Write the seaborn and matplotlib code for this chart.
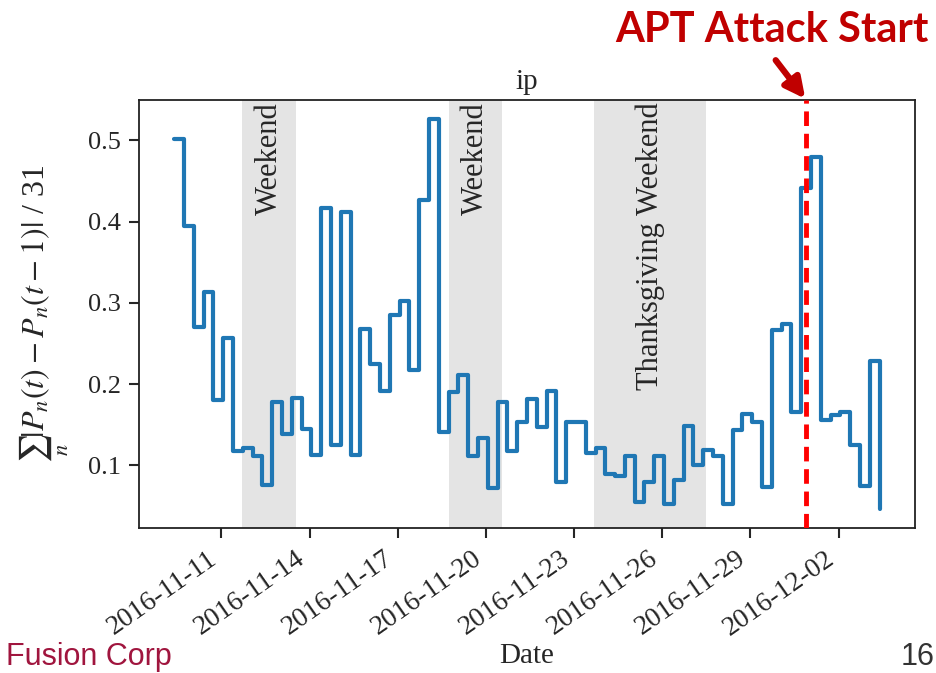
import pandas as pd
import numpy as np
import matplotlib
matplotlib.use('Agg')
import matplotlib.pyplot as plt
import matplotlib.dates as mdates
import seaborn as sns

# values of the ip series, one every 8 hours
start_time = '2016-11-09 09:30'
step = '8h'
values = [0.501, 0.395, 0.270, 0.313, 0.180, 0.257, 0.118, 0.122, 0.111, 0.076,
          0.178, 0.139, 0.183, 0.145, 0.113, 0.417, 0.125, 0.412, 0.113, 0.268,
          0.225, 0.192, 0.285, 0.302, 0.218, 0.426, 0.526, 0.141, 0.190, 0.211,
          0.112, 0.134, 0.072, 0.178, 0.118, 0.153, 0.182, 0.147, 0.192, 0.080,
          0.154, 0.154, 0.115, 0.122, 0.089, 0.087, 0.112, 0.055, 0.080, 0.111,
          0.053, 0.082, 0.149, 0.100, 0.119, 0.111, 0.052, 0.143, 0.163, 0.153,
          0.074, 0.266, 0.274, 0.166, 0.441, 0.479, 0.156, 0.162, 0.166, 0.125,
          0.075, 0.228, 0.047]

span_labels = ['Weekend', 'Weekend', 'Thanksgiving Weekend']
span_starts = ['2016-11-11 17:00', '2016-11-18 17:30', '2016-11-23 16:30']
span_ends = ['2016-11-13 12:45', '2016-11-20 12:45', '2016-11-27 11:45']
attack_time = '2016-11-30 21:00'
tick_dates = pd.date_range('2016-11-11', '2016-12-02', freq='3D')

df = pd.DataFrame({'Date': pd.date_range(start_time, periods=len(values), freq=step),
                   'value': values})

sns.set_style('ticks')
plt.rcParams['font.family'] = ['Liberation Serif', 'DejaVu Serif']
plt.rcParams['mathtext.fontset'] = 'stix'

fig = plt.figure(figsize=(9.37, 6.73), dpi=100)
ax = fig.add_axes([0.1483, 0.2155, 0.8281, 0.6364])

# shaded weekends
for lab, s, e in zip(span_labels, span_starts, span_ends):
    s, e = pd.Timestamp(s), pd.Timestamp(e)
    ax.axvspan(s, e, color='#e4e4e4', lw=0, zorder=0)
    ax.text(s + (e - s) / 2, 0.995, lab, transform=ax.get_xaxis_transform(),
            rotation=90, ha='center', va='top', fontsize=22)

sns.lineplot(data=df, x='Date', y='value', drawstyle='steps-post',
             color='#1f77b4', lw=3, ax=ax, zorder=3)

ax.axvline(pd.Timestamp(attack_time), color='red', ls='--', lw=3.5,
           dashes=(3, 1.6), zorder=4)

ax.set_xticks(tick_dates)
ax.xaxis.set_major_formatter(mdates.DateFormatter('%Y-%m-%d'))
plt.setp(ax.get_xticklabels(), rotation=35, ha='right')
ax.tick_params(labelsize=20, length=7, width=1.5, pad=6)
ax.tick_params(axis='y', labelsize=19)
for sp in ax.spines.values():
    sp.set_linewidth(1.3)
    sp.set_color('#222222')

ax.set_title('ip', fontsize=21, pad=8)
ax.set_xlabel('Date', fontsize=21, labelpad=2)
ax.set_ylabel(r'$\sum_{n}|P_n(t)-P_n(t-1)|$ / 31', fontsize=23, labelpad=12)

# slide overlay
fig.text(0.824, 0.955, 'APT Attack Start', color='#C00000', fontsize=30,
         fontweight='bold', family=['Lato', 'DejaVu Sans'], ha='center', va='center')
fig.add_artist(matplotlib.patches.FancyArrowPatch(
    (774 / 937, 1 - 58 / 673), (807 / 937, 1 - 101 / 673),
    transform=fig.transFigure, arrowstyle='-|>', mutation_scale=30,
    lw=4.5, color='#C00000'))
fig.text(0.006, 0.001, 'Fusion Corp', color='#A0153E', fontsize=22,
         family=['Liberation Sans', 'DejaVu Sans'], ha='left', va='bottom')
fig.text(0.997, 0.001, '16', color='#333333', fontsize=22,
         family=['Liberation Sans', 'DejaVu Sans'], ha='right', va='bottom')

plt.savefig('out.png', dpi=100)
